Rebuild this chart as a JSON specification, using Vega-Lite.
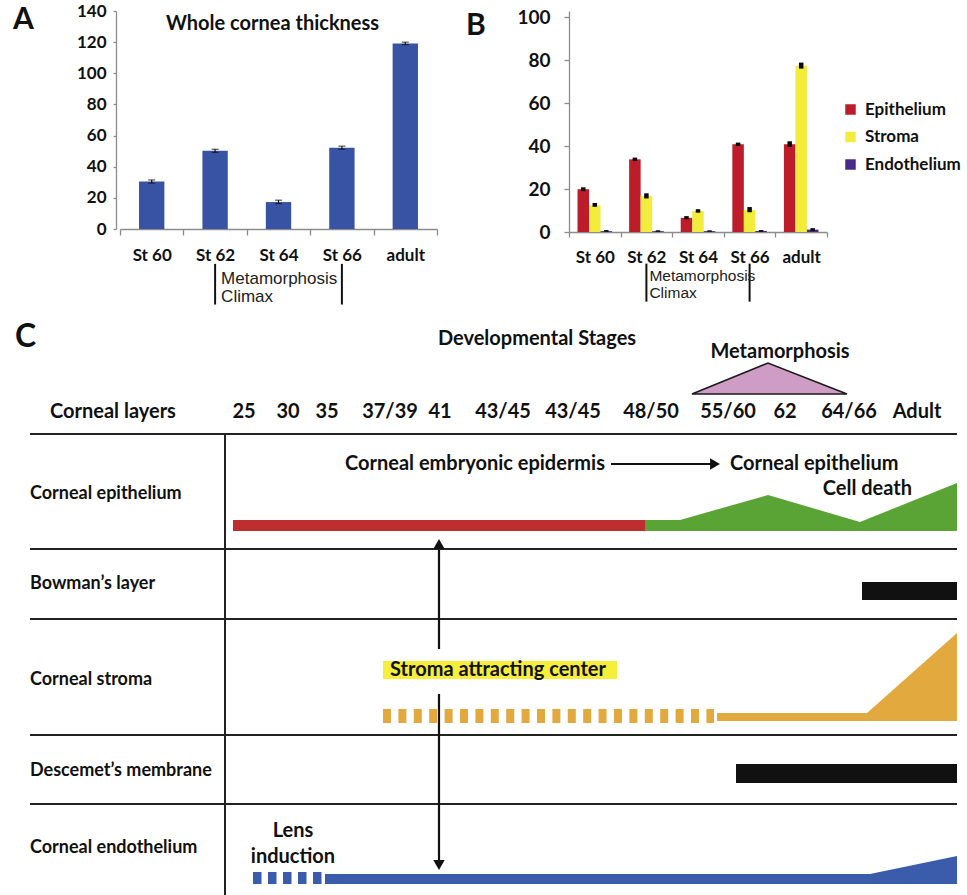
{
  "$schema": "https://vega.github.io/schema/vega-lite/v6.json",
  "background": "white",
  "padding": {"left": 13, "top": 2, "right": 0, "bottom": 0},
  "spacing": 0,
  "config": {
    "view": {"stroke": null},
    "font": "Lato",
    "axis": {"labelFont": "Lato", "labelFontWeight": "bold", "labelFontSize": 17, "labelColor": "#111", "domainColor": "#8c8c8c", "tickColor": "#8c8c8c", "domainWidth": 1.3, "tickWidth": 1.3, "grid": false, "title": null, "labelOverlap": false},
    "axisY": {"labelOverlap": false},
    "axisQuantitative": {"labelOverlap": false}
  },
  "datasets": {
    "a": [
      {"stage": "St 60", "v": 30.5, "lo": 29.5, "hi": 31.5},
      {"stage": "St 62", "v": 50.2, "lo": 49.2, "hi": 51.2},
      {"stage": "St 64", "v": 17.3, "lo": 16.3, "hi": 18.5},
      {"stage": "St 66", "v": 52.2, "lo": 51.2, "hi": 53.2},
      {"stage": "adult", "v": 119.2, "lo": 118.4, "hi": 120.0}
    ],
    "b": [
      {"stage": "St 60", "layer": "Epithelium", "v": 19.9, "lo": 19.0, "hi": 20.8},
      {"stage": "St 60", "layer": "Stroma", "v": 12.5, "lo": 11.7, "hi": 13.5},
      {"stage": "St 60", "layer": "Endothelium", "v": 0.4, "lo": 0.1, "hi": 0.9},
      {"stage": "St 62", "layer": "Epithelium", "v": 33.8, "lo": 33.0, "hi": 34.6},
      {"stage": "St 62", "layer": "Stroma", "v": 16.8, "lo": 15.6, "hi": 18.0},
      {"stage": "St 62", "layer": "Endothelium", "v": 0.4, "lo": 0.1, "hi": 0.8},
      {"stage": "St 64", "layer": "Epithelium", "v": 6.6, "lo": 5.9, "hi": 7.4},
      {"stage": "St 64", "layer": "Stroma", "v": 9.8, "lo": 9.0, "hi": 10.6},
      {"stage": "St 64", "layer": "Endothelium", "v": 0.4, "lo": 0.1, "hi": 0.8},
      {"stage": "St 66", "layer": "Epithelium", "v": 40.8, "lo": 40.0, "hi": 41.6},
      {"stage": "St 66", "layer": "Stroma", "v": 10.2, "lo": 9.2, "hi": 11.6},
      {"stage": "St 66", "layer": "Endothelium", "v": 0.5, "lo": 0.1, "hi": 0.9},
      {"stage": "adult", "layer": "Epithelium", "v": 40.8, "lo": 39.6, "hi": 42.2},
      {"stage": "adult", "layer": "Stroma", "v": 77.3, "lo": 76.0, "hi": 78.8},
      {"stage": "adult", "layer": "Endothelium", "v": 1.1, "lo": 0.5, "hi": 1.8}
    ],
    "a_note": [
      {"stage": "St 62", "y": -22.4, "y2": -48.5},
      {"stage": "St 66", "y": -22.4, "y2": -48.5}
    ],
    "a_note_text": [
      {"stage": "St 62", "y": -31.8, "label": "Metamorphosis"},
      {"stage": "St 62", "y": -43.5, "label": "Climax"}
    ],
    "a_title": [{"stage": "St 64", "y": 131.5, "label": "Whole cornea thickness"}],
    "b_note": [
      {"stage": "St 62", "y": -14.7, "y2": -32.4},
      {"stage": "St 66", "y": -14.7, "y2": -32.4}
    ],
    "b_note_text": [
      {"stage": "St 62", "y": -20.5, "label": "Metamorphosis"},
      {"stage": "St 62", "y": -28.4, "label": "Climax"}
    ],
    "c_lines": [
      {"x": 30, "x2": 957, "y": 433, "y2": 433},
      {"x": 30, "x2": 957, "y": 548, "y2": 548},
      {"x": 30, "x2": 957, "y": 618, "y2": 618},
      {"x": 30, "x2": 957, "y": 734, "y2": 734},
      {"x": 30, "x2": 957, "y": 803, "y2": 803},
      {"x": 225, "x2": 225, "y": 433, "y2": 895}
    ],
    "c_red": [{"x": 233, "x2": 645, "y": 519, "y2": 530}],
    "c_black": [
      {"x": 862, "x2": 957, "y": 581, "y2": 599},
      {"x": 736, "x2": 957, "y": 763, "y2": 782}
    ],
    "c_box": [{"x": 383, "x2": 617, "y": 660, "y2": 678}],
    "c_epi": [
      {"x": 645, "y": 519, "y2": 530},
      {"x": 680, "y": 519, "y2": 530},
      {"x": 768, "y": 494, "y2": 530},
      {"x": 860, "y": 521, "y2": 530},
      {"x": 957, "y": 482, "y2": 530}
    ],
    "c_str": [
      {"x": 717, "y": 712, "y2": 720},
      {"x": 867, "y": 712, "y2": 720},
      {"x": 957, "y": 632, "y2": 720}
    ],
    "c_end": [
      {"x": 325, "y": 873, "y2": 883},
      {"x": 870, "y": 873, "y2": 883},
      {"x": 957, "y": 855, "y2": 883}
    ],
    "c_tri": [
      {"x": 692, "y": 393, "y2": 393},
      {"x": 768, "y": 362, "y2": 393},
      {"x": 847, "y": 393, "y2": 393}
    ],
    "c_dash_s": [{"x": 383, "x2": 714, "y": 715, "y2": 715}],
    "c_dash_e": [{"x": 253, "x2": 323, "y": 877, "y2": 877}],
    "c_arrows": [
      {"x": 611, "x2": 712, "y": 463, "y2": 463},
      {"x": 439, "x2": 439, "y": 549, "y2": 648},
      {"x": 439, "x2": 439, "y": 693, "y2": 860}
    ],
    "c_head_r": [{"x": 715, "y": 463}],
    "c_head_u": [{"x": 439, "y": 543}],
    "c_head_d": [{"x": 439, "y": 864}],
    "c_text_c": [
      {"x": 537, "y": 338, "label": "Developmental Stages"},
      {"x": 780, "y": 351, "label": "Metamorphosis"},
      {"x": 244, "y": 411, "label": "25"},
      {"x": 288, "y": 411, "label": "30"},
      {"x": 327, "y": 411, "label": "35"},
      {"x": 390, "y": 411, "label": "37/39"},
      {"x": 440, "y": 411, "label": "41"},
      {"x": 503, "y": 411, "label": "43/45"},
      {"x": 573, "y": 411, "label": "43/45"},
      {"x": 651, "y": 411, "label": "48/50"},
      {"x": 728, "y": 411, "label": "55/60"},
      {"x": 785, "y": 411, "label": "62"},
      {"x": 849, "y": 411, "label": "64/66"},
      {"x": 917, "y": 411, "label": "Adult"},
      {"x": 475, "y": 463, "label": "Corneal embryonic epidermis"},
      {"x": 498, "y": 669, "label": "Stroma attracting center"},
      {"x": 293, "y": 830, "label": "Lens"},
      {"x": 293, "y": 856, "label": "induction"}
    ],
    "c_text_l": [
      {"x": 50, "y": 411, "label": "Corneal layers"},
      {"x": 730, "y": 463, "label": "Corneal epithelium"}
    ],
    "c_rows": [
      {"x": 30, "y": 493, "label": "Corneal epithelium"},
      {"x": 30, "y": 583, "label": "Bowman’s layer"},
      {"x": 30, "y": 679, "label": "Corneal stroma"},
      {"x": 30, "y": 770, "label": "Descemet’s membrane"},
      {"x": 30, "y": 847, "label": "Corneal endothelium"}
    ],
    "c_text_r": [{"x": 912, "y": 488, "label": "Cell death"}],
    "c_letter": [{"x": 15, "y": 336, "label": "C"}]
  },
  "vconcat": [
    {
      "spacing": 28,
      "hconcat": [
        {
          "width": 317,
          "height": 218,
          "title": {"text": "A", "anchor": "start", "frame": "group", "dx": -107, "offset": -33, "fontSize": 30, "fontWeight": "bold", "font": "Lato", "color": "#111"},
          "encoding": {
            "x": {"field": "stage", "type": "nominal", "sort": ["St 60", "St 62", "St 64", "St 66", "adult"], "scale": {"domain": ["St 60", "St 62", "St 64", "St 66", "adult"], "paddingInner": 0, "paddingOuter": 0},
                  "axis": {"labelAngle": 0, "tickBand": "extent", "tickSize": 6, "labelPadding": 12}}
          },
          "layer": [
            {
              "data": {"name": "a"},
              "mark": {"type": "bar", "width": {"band": 0.4}, "color": "#3953a4"},
              "encoding": {"y": {"field": "v", "type": "quantitative", "scale": {"domain": [0, 140], "nice": false}, "axis": {"values": [0, 20, 40, 60, 80, 100, 120, 140], "tickSize": 3, "labelPadding": 7, "offset": 4, "labelOverlap": false}}}
            },
            {
              "data": {"name": "a"},
              "mark": {"type": "rule", "color": "#111", "strokeWidth": 1.2},
              "encoding": {"y": {"field": "lo", "type": "quantitative", "axis": {"values": [0, 20, 40, 60, 80, 100, 120, 140], "tickSize": 3, "labelPadding": 7, "offset": 4, "labelOverlap": false}}, "y2": {"field": "hi"}}
            },
            {
              "data": {"name": "a"},
              "mark": {"type": "tick", "orient": "horizontal", "size": 7, "thickness": 1.2, "color": "#111"},
              "encoding": {"y": {"field": "lo", "type": "quantitative", "axis": {"values": [0, 20, 40, 60, 80, 100, 120, 140], "tickSize": 3, "labelPadding": 7, "offset": 4, "labelOverlap": false}}}
            },
            {
              "data": {"name": "a"},
              "mark": {"type": "tick", "orient": "horizontal", "size": 7, "thickness": 1.2, "color": "#111"},
              "encoding": {"y": {"field": "hi", "type": "quantitative", "axis": {"values": [0, 20, 40, 60, 80, 100, 120, 140], "tickSize": 3, "labelPadding": 7, "offset": 4, "labelOverlap": false}}}
            },
            {
              "data": {"name": "a_title"},
              "mark": {"type": "text", "font": "Lato", "fontWeight": "bold", "fontSize": 20, "color": "#111", "baseline": "middle", "dx": -6},
              "encoding": {"y": {"field": "y", "type": "quantitative", "axis": {"values": [0, 20, 40, 60, 80, 100, 120, 140], "tickSize": 3, "labelPadding": 7, "offset": 4, "labelOverlap": false}}, "text": {"field": "label"}}
            },
            {
              "data": {"name": "a_note"},
              "mark": {"type": "rule", "color": "#111", "strokeWidth": 2},
              "encoding": {"y": {"field": "y", "type": "quantitative", "axis": {"values": [0, 20, 40, 60, 80, 100, 120, 140], "tickSize": 3, "labelPadding": 7, "offset": 4, "labelOverlap": false}}, "y2": {"field": "y2"}}
            },
            {
              "data": {"name": "a_note_text"},
              "mark": {"type": "text", "font": "Liberation Sans", "fontSize": 17, "color": "#222", "align": "left", "baseline": "middle", "dx": 6},
              "encoding": {"y": {"field": "y", "type": "quantitative", "axis": {"values": [0, 20, 40, 60, 80, 100, 120, 140], "tickSize": 3, "labelPadding": 7, "offset": 4, "labelOverlap": false}}, "text": {"field": "label"}}
            }
          ]
        },
        {
          "width": 258,
          "height": 221,
          "title": {"text": "B", "anchor": "start", "frame": "group", "dx": -103, "offset": -33, "fontSize": 30, "fontWeight": "bold", "font": "Lato", "color": "#111"},
          "encoding": {
            "x": {"field": "stage", "type": "nominal", "sort": ["St 60", "St 62", "St 64", "St 66", "adult"], "scale": {"domain": ["St 60", "St 62", "St 64", "St 66", "adult"], "paddingInner": 0, "paddingOuter": 0},
                  "axis": {"labelAngle": 0, "tickBand": "extent", "tickSize": 5, "labelPadding": 12}}
          },
          "layer": [
            {
              "data": {"name": "b"},
              "mark": {"type": "bar"},
              "encoding": {
                "xOffset": {"field": "layer", "type": "nominal", "sort": ["Epithelium", "Stroma", "Endothelium"], "scale": {"paddingInner": 0, "paddingOuter": 0.74}},
                "y": {"field": "v", "type": "quantitative", "scale": {"domain": [0, 102.8], "nice": false}, "axis": {"values": [0, 20, 40, 60, 80, 100], "tickSize": 5, "labelPadding": 14, "labelFontSize": 19, "labelOverlap": false}},
                "color": {"field": "layer", "type": "nominal", "sort": ["Epithelium", "Stroma", "Endothelium"],
                          "scale": {"domain": ["Epithelium", "Stroma", "Endothelium"], "range": ["#bd1c2b", "#f4ec3c", "#4a2a86"]},
                          "legend": {"orient": "none", "legendX": 722, "legendY": 90, "title": null, "symbolType": "square", "symbolSize": 110, "symbolStrokeWidth": 0, "labelFont": "Lato", "labelFontWeight": "bold", "labelFontSize": 17, "labelColor": "#111", "rowPadding": 9.5, "labelOffset": 6}}
              }
            },
            {
              "data": {"name": "b"},
              "mark": {"type": "rule", "color": "#0a0a0a", "strokeWidth": 4.5},
              "encoding": {
                "xOffset": {"field": "layer", "type": "nominal", "sort": ["Epithelium", "Stroma", "Endothelium"]},
                "y": {"field": "lo", "type": "quantitative", "axis": {"values": [0, 20, 40, 60, 80, 100], "tickSize": 5, "labelPadding": 14, "labelFontSize": 19, "labelOverlap": false}}, "y2": {"field": "hi"}
              }
            },
            {
              "data": {"name": "b_note"},
              "mark": {"type": "rule", "color": "#111", "strokeWidth": 2},
              "encoding": {"y": {"field": "y", "type": "quantitative", "axis": {"values": [0, 20, 40, 60, 80, 100], "tickSize": 5, "labelPadding": 14, "labelFontSize": 19, "labelOverlap": false}}, "y2": {"field": "y2"}}
            },
            {
              "data": {"name": "b_note_text"},
              "mark": {"type": "text", "font": "Liberation Sans", "fontSize": 15.5, "color": "#222", "align": "left", "baseline": "middle", "dx": 3},
              "encoding": {"y": {"field": "y", "type": "quantitative", "axis": {"values": [0, 20, 40, 60, 80, 100], "tickSize": 5, "labelPadding": 14, "labelFontSize": 19, "labelOverlap": false}}, "text": {"field": "label"}}
            }
          ]
        }
      ]
    },
    {
      "width": 847,
      "height": 590,
      "encoding": {
        "x": {"field": "x", "type": "quantitative", "scale": {"domain": [120, 967], "nice": false, "zero": false}, "axis": null},
        "y": {"field": "y", "type": "quantitative", "scale": {"domain": [305, 895], "nice": false, "zero": false, "reverse": true}, "axis": null}
      },
      "layer": [
        {
          "data": {"name": "c_lines"},
          "mark": {"type": "rule", "color": "#222", "strokeWidth": 2},
          "encoding": {"x2": {"field": "x2"}, "y2": {"field": "y2"}}
        },
        {
          "data": {"name": "c_tri"},
          "mark": {"type": "area", "orient": "vertical", "color": "#cf9cc6", "stroke": "#1a1a1a", "strokeWidth": 1.6, "opacity": 1},
          "encoding": {"y2": {"field": "y2"}}
        },
        {
          "data": {"name": "c_epi"},
          "mark": {"type": "area", "orient": "vertical", "color": "#5aa436", "opacity": 1},
          "encoding": {"y2": {"field": "y2"}}
        },
        {
          "data": {"name": "c_str"},
          "mark": {"type": "area", "orient": "vertical", "color": "#e2a93f", "opacity": 1},
          "encoding": {"y2": {"field": "y2"}}
        },
        {
          "data": {"name": "c_end"},
          "mark": {"type": "area", "orient": "vertical", "color": "#3b5bab", "opacity": 1},
          "encoding": {"y2": {"field": "y2"}}
        },
        {
          "data": {"name": "c_red"},
          "mark": {"type": "rect", "color": "#be2e2f", "opacity": 1},
          "encoding": {"x2": {"field": "x2"}, "y2": {"field": "y2"}}
        },
        {
          "data": {"name": "c_black"},
          "mark": {"type": "rect", "color": "#111111", "opacity": 1},
          "encoding": {"x2": {"field": "x2"}, "y2": {"field": "y2"}}
        },
        {
          "data": {"name": "c_box"},
          "mark": {"type": "rect", "color": "#f5ee3b", "opacity": 1},
          "encoding": {"x2": {"field": "x2"}, "y2": {"field": "y2"}}
        },
        {
          "data": {"name": "c_dash_s"},
          "mark": {"type": "rule", "color": "#e2a93f", "strokeWidth": 14, "strokeDash": [8, 7.4], "strokeCap": "butt"},
          "encoding": {"x2": {"field": "x2"}, "y2": {"field": "y2"}}
        },
        {
          "data": {"name": "c_dash_e"},
          "mark": {"type": "rule", "color": "#3b5bab", "strokeWidth": 12, "strokeDash": [8.5, 6.5], "strokeCap": "butt"},
          "encoding": {"x2": {"field": "x2"}, "y2": {"field": "y2"}}
        },
        {
          "data": {"name": "c_arrows"},
          "mark": {"type": "rule", "color": "#111", "strokeWidth": 2.2},
          "encoding": {"x2": {"field": "x2"}, "y2": {"field": "y2"}}
        },
        {
          "data": {"name": "c_head_r"},
          "mark": {"type": "point", "shape": "triangle-right", "filled": true, "color": "#111", "size": 130, "opacity": 1},
          "encoding": {}
        },
        {
          "data": {"name": "c_head_u"},
          "mark": {"type": "point", "shape": "triangle-up", "filled": true, "color": "#111", "size": 130, "opacity": 1},
          "encoding": {}
        },
        {
          "data": {"name": "c_head_d"},
          "mark": {"type": "point", "shape": "triangle-down", "filled": true, "color": "#111", "size": 130, "opacity": 1},
          "encoding": {}
        },
        {
          "data": {"name": "c_text_c"},
          "mark": {"type": "text", "font": "Lato", "fontWeight": "bold", "fontSize": 20, "color": "#111", "align": "center", "baseline": "middle"},
          "encoding": {"text": {"field": "label"}}
        },
        {
          "data": {"name": "c_text_l"},
          "mark": {"type": "text", "font": "Lato", "fontWeight": "bold", "fontSize": 20, "color": "#111", "align": "left", "baseline": "middle"},
          "encoding": {"text": {"field": "label"}}
        },
        {
          "data": {"name": "c_rows"},
          "mark": {"type": "text", "font": "Lato", "fontWeight": "bold", "fontSize": 18, "color": "#111", "align": "left", "baseline": "middle"},
          "encoding": {"text": {"field": "label"}}
        },
        {
          "data": {"name": "c_text_r"},
          "mark": {"type": "text", "font": "Lato", "fontWeight": "bold", "fontSize": 20, "color": "#111", "align": "right", "baseline": "middle"},
          "encoding": {"text": {"field": "label"}}
        },
        {
          "data": {"name": "c_letter"},
          "mark": {"type": "text", "font": "Lato", "fontWeight": "bold", "fontSize": 32, "color": "#111", "align": "left", "baseline": "middle"},
          "encoding": {"text": {"field": "label"}}
        }
      ]
    }
  ]
}
